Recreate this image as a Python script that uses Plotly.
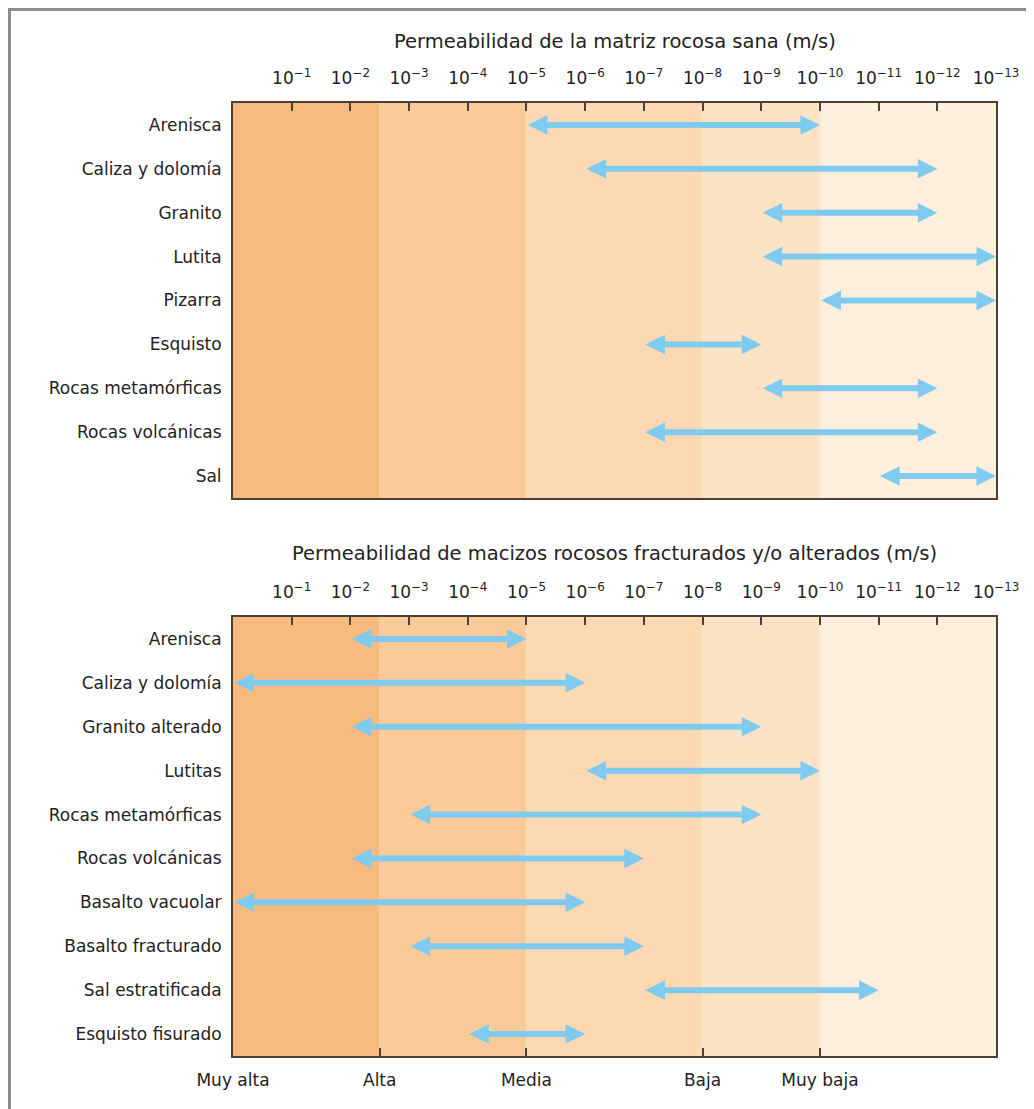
import plotly.graph_objects as go

# ---------------- data ----------------
exp_ticks = list(range(1, 14))                      # exponent positions 10^-1 ... 10^-13
exp_labels = [f"10<sup>\u2212{n}</sup>" for n in exp_ticks]
band_edges = [0, 2.5, 5, 8, 10, 13]                 # permeability classes (exponent)
band_colors = ["#F9BA80", "#FBCA99", "#FCD8B3", "#FDE3C6", "#FEEEDC"]
class_pos = [0, 2.5, 5, 8, 10]
class_labels = ["Muy alta", "Alta", "Media", "Baja", "Muy baja"]

top_rocks = ["Arenisca", "Caliza y dolomía", "Granito", "Lutita", "Pizarra",
             "Esquisto", "Rocas metamórficas", "Rocas volcánicas", "Sal"]
top_start = [5, 6, 9, 9, 10, 7, 9, 7, 11]
top_end = [10, 12, 12, 13, 13, 9, 12, 12, 13]

bot_rocks = ["Arenisca", "Caliza y dolomía", "Granito alterado", "Lutitas",
             "Rocas metamórficas", "Rocas volcánicas", "Basalto vacuolar",
             "Basalto fracturado", "Sal estratificada", "Esquisto fisurado"]
bot_start = [2, 0, 2, 6, 3, 2, 0, 3, 7, 4]
bot_end = [5, 6, 9, 10, 9, 7, 6, 7, 11, 6]

title_top = "Permeabilidad de la matriz rocosa sana (m/s)"
title_bot = "Permeabilidad de macizos rocosos fracturados y/o alterados (m/s)"

# ---------------- style ----------------
FONT = "DejaVu Sans, Arial, sans-serif"
TXT = "#222222"
FRAME = "#4e4034"
ARROW = "#7FCBF0"
OFF = 8                                   # page body margin
W, H = 1034 - OFF, 1109 - OFF
L, T = 233 - OFF, 103 - OFF
RIGHT_PX, BOTTOM_PX = 996 - OFF, 1056 - OFF
R, B = W - RIGHT_PX, H - BOTTOM_PX
plot_h = H - T - B
plot_w = W - L - R
top_dom = [(BOTTOM_PX - (498 - OFF)) / plot_h, 1.0]
bot_dom = [0.0, (BOTTOM_PX - (617 - OFF)) / plot_h]

def py(page_y):
    return (BOTTOM_PX - (page_y - OFF)) / plot_h

def px(page_x):
    return ((page_x - OFF) - L) / plot_w

fig = go.Figure()

# invisible traces to establish the axes
fig.add_trace(go.Scatter(x=top_start, y=top_rocks, mode="markers", marker=dict(opacity=0),
                         xaxis="x", yaxis="y", hoverinfo="skip", showlegend=False))
fig.add_trace(go.Scatter(x=bot_start, y=bot_rocks, mode="markers", marker=dict(opacity=0),
                         xaxis="x2", yaxis="y2", hoverinfo="skip", showlegend=False))
fig.add_trace(go.Scatter(x=class_pos, y=[bot_rocks[-1]] * len(class_pos), mode="markers",
                         marker=dict(opacity=0), xaxis="x3", yaxis="y2",
                         hoverinfo="skip", showlegend=False))

shapes = []
for xr, yr in (("x", "y domain"), ("x2", "y2 domain")):
    for i, c in enumerate(band_colors):
        shapes.append(dict(type="rect", xref=xr, yref=yr, x0=band_edges[i], x1=band_edges[i + 1],
                           y0=0, y1=1, fillcolor=c, line=dict(width=0), layer="below"))

# outer page border (left and top)
bx = px(OFF + 1.5)
by = py(OFF + 1.5)
shapes.append(dict(type="path", xref="paper", yref="paper",
                   path=f"M {bx},{-0.2} L {bx},{by} L {1.2},{by}",
                   line=dict(color="#8C8C8C", width=3)))

annotations = []
def arrows(rocks, s, e, xr, yr):
    for rock, a, b in zip(rocks, s, e):
        annotations.append(dict(x=b, y=rock, ax=a, ay=rock, xref=xr, yref=yr, axref=xr, ayref=yr,
                                text="", showarrow=True, arrowhead=2, arrowside="end+start",
                                arrowsize=0.65, arrowwidth=6, arrowcolor=ARROW, standoff=0,
                                startstandoff=0))
arrows(top_rocks, top_start, top_end, "x", "y")
arrows(bot_rocks, bot_start, bot_end, "x2", "y2")

annotations.append(dict(text=title_top, xref="paper", yref="paper", x=0.5,
                        y=py(42), yanchor="middle", showarrow=False,
                        font=dict(family=FONT, size=19.5, color=TXT)))
annotations.append(dict(text=title_bot, xref="paper", yref="paper", x=0.5,
                        y=py(553), yanchor="middle", showarrow=False,
                        font=dict(family=FONT, size=19.5, color=TXT)))

xcommon = dict(range=[0, 13], side="top", tickmode="array", tickvals=exp_ticks,
               ticktext=exp_labels, ticks="inside", ticklen=8, tickwidth=2, tickcolor=FRAME,
               showline=True, linecolor=FRAME, linewidth=2, mirror=True, showgrid=False,
               zeroline=False, ticklabelstandoff=10,
               tickfont=dict(family=FONT, size=17, color=TXT))
ycommon = dict(type="category", autorange=False, showline=True, linecolor=FRAME, linewidth=2,
               mirror=True, showgrid=False, zeroline=False, ticks="", ticklabelstandoff=6,
               tickfont=dict(family=FONT, size=17, color=TXT))

fig.update_layout(
    width=W, height=H,
    margin=dict(l=L, r=R, t=T, b=B),
    paper_bgcolor="white", plot_bgcolor="white",
    showlegend=False,
    xaxis=dict(anchor="y", domain=[0, 1], **xcommon),
    yaxis=dict(anchor="x", domain=top_dom, categoryorder="array", categoryarray=top_rocks,
               range=[len(top_rocks) - 0.5, -0.5], **ycommon),
    xaxis2=dict(anchor="y2", domain=[0, 1], **xcommon),
    yaxis2=dict(anchor="x2", domain=bot_dom, categoryorder="array", categoryarray=bot_rocks,
                range=[len(bot_rocks) - 0.5, -0.5], **ycommon),
    xaxis3=dict(anchor="y2", overlaying="x2", side="bottom", range=[0, 13], tickmode="array",
                tickvals=class_pos, ticktext=class_labels, ticks="inside", ticklen=8,
                tickwidth=2, tickcolor=FRAME, showline=False, showgrid=False, zeroline=False,
                ticklabelstandoff=12, tickfont=dict(family=FONT, size=17, color=TXT)),
    shapes=shapes,
    annotations=annotations,
)

fig.write_html("out.html")
